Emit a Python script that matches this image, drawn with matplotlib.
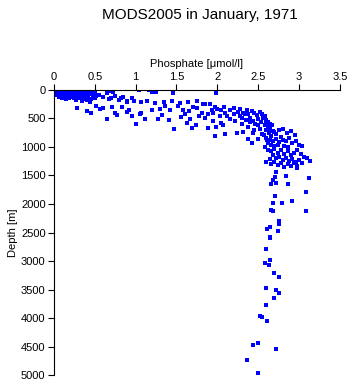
import matplotlib
matplotlib.use('Agg')
import matplotlib.pyplot as plt
from matplotlib.ticker import FormatStrFormatter, FuncFormatter

plt.rcParams['font.family'] = ['Liberation Sans', 'DejaVu Sans']

# surface layer, 0-170 m
surf_po4 = [0.01, 0.04, 0.07, 0.10, 0.13, 0.16, 0.19, 0.22, 0.26, 0.30, 0.35, 0.40, 0.46,
            0.02, 0.05, 0.08, 0.11, 0.14, 0.17, 0.21, 0.25, 0.29, 0.33, 0.38, 0.43,
            0.00, 0.03, 0.06, 0.09, 0.12, 0.15, 0.18, 0.22, 0.27, 0.31, 0.36, 0.42, 0.48,
            0.01, 0.04, 0.07, 0.10, 0.13, 0.17, 0.20, 0.24, 0.28, 0.34, 0.39, 0.45,
            0.02, 0.05, 0.09, 0.12, 0.16, 0.19, 0.23, 0.27, 0.32, 0.37, 0.44, 0.50,
            0.03, 0.06, 0.10, 0.14, 0.18, 0.22, 0.26, 0.31, 0.36, 0.41, 0.47,
            0.04, 0.08, 0.12, 0.16, 0.21, 0.25, 0.30, 0.35, 0.42, 0.52,
            0.06, 0.11, 0.15, 0.20, 0.26, 0.33, 0.40, 0.48,
            0.10, 0.18, 0.24, 0.31, 0.38, 0.46,
            0.15, 0.27, 0.36]
surf_depth = [4, 8, 2, 6, 10, 3, 7, 12, 5, 9, 4, 11, 6,
              22, 18, 25, 20, 16, 24, 19, 27, 21, 17, 23, 26,
              34, 38, 31, 36, 40, 33, 37, 35, 41, 32, 39, 36, 30,
              48, 52, 46, 55, 50, 47, 53, 49, 56, 51, 45, 54,
              64, 68, 62, 70, 66, 61, 67, 72, 63, 69, 65, 60,
              80, 84, 78, 86, 82, 79, 85, 77, 83, 88, 81,
              98, 102, 96, 105, 100, 97, 104, 99, 106, 110,
              118, 124, 116, 122, 126, 120, 128, 132,
              142, 148, 145, 150, 140, 155,
              168, 175, 165]

# upper thermocline, 0.3-1.0
upper_po4 = [0.67, 0.72, 0.55, 0.60, 0.65, 0.70, 0.75, 0.80, 0.85, 0.90, 0.95, 0.50, 0.44, 0.40, 0.35, 0.30,
             0.44, 0.65, 0.77, 0.46, 0.41, 0.28, 0.60, 0.71, 0.83, 0.89, 0.92, 0.52, 0.56, 0.75, 0.68, 0.89, 0.82, 0.71]
upper_depth = [20, 45, 90, 120, 60, 140, 110, 170, 130, 200, 150, 150, 220, 180, 200, 150,
               193, 503, 444, 409, 368, 310, 310, 293, 293, 386, 351, 281, 339, 398, 163, 193, 135, 18]

# phosphocline, 1.0-2.6
mid_po4 = [1.04, 1.16, 1.20, 1.25, 1.46, 1.99,
           0.89, 0.98, 1.07, 1.14, 1.24, 1.35, 1.44, 1.54, 1.64, 1.75, 1.83,
           0.92, 1.07, 1.20, 1.30, 1.36, 1.42, 1.52, 1.58, 1.65, 1.75, 1.77, 1.67, 1.63, 1.74, 1.47,
           1.01, 1.12, 1.28, 1.41, 0.95, 1.05, 1.32, 1.69,
           1.85, 1.91, 1.97, 2.08, 2.20, 2.28, 2.36, 2.42, 2.52,
           1.81, 1.89, 1.95, 2.03, 2.15, 2.22, 2.30, 2.34, 2.40, 2.44, 2.50, 2.59,
           1.89, 1.99, 2.07, 2.24, 2.32, 2.44, 2.50, 1.97, 2.10, 2.38, 2.42, 2.61, 2.55, 2.50, 2.48,
           2.25, 2.32, 2.38, 2.45, 2.28, 2.35, 2.40, 2.46, 2.30, 2.38, 2.45, 2.52, 2.20,
           2.15, 2.10, 2.05, 2.00, 1.93, 1.70, 1.60, 1.55, 1.85, 1.95, 2.05, 2.12]
mid_depth = [5, 5, 30, 35, 58, 58,
             210, 195, 215, 200, 225, 205, 190, 230, 215, 200, 251,
             351, 398, 351, 339, 281, 351, 281, 351, 368, 310, 456, 514, 585, 620, 690,
             602, 514, 514, 532, 456, 427, 444, 661,
             251, 255, 293, 300, 310, 328, 351, 368, 386,
             398, 427, 405, 456, 514, 544, 485, 427, 490, 550, 620, 602,
             661, 655, 620, 749, 745, 755, 865, 807, 778, 860, 924, 870, 778, 514, 444,
             380, 400, 420, 400, 450, 520, 560, 600, 600, 650, 700, 680, 420,
             360, 400, 350, 330, 350, 300, 420, 480, 500, 540, 580, 450]

# deep maximum, 350-1350 m
deep_po4 = [2.52, 2.55, 2.58, 2.56, 2.60, 2.62, 2.65, 2.54, 2.67, 2.60,
            2.58, 2.62, 2.60, 2.65, 2.68, 2.63, 2.70, 2.57, 2.66, 2.72, 2.75, 2.80, 2.85, 2.90, 2.95, 2.78,
            2.60, 2.64, 2.68, 2.72, 2.76, 2.80, 2.84, 2.88, 2.92, 2.96, 3.00, 2.66, 2.70, 2.74, 2.82, 2.86,
            3.04, 2.62, 2.58,
            2.62, 2.66, 2.70, 2.74, 2.78, 2.82, 2.86, 2.90, 2.94, 2.98, 3.02, 3.06, 3.10, 2.68, 2.72, 2.76,
            2.80, 2.84, 2.88, 2.92, 2.96, 3.00, 2.64, 2.70, 2.78, 2.86, 2.94, 3.04, 2.74, 2.82, 2.90, 2.98,
            2.66, 2.60]
deep_depth = [380, 420, 450, 500, 520, 560, 590, 560, 620, 600,
              620, 650, 700, 680, 720, 760, 740, 790, 800, 780, 700, 690, 760, 720, 790, 820,
              850, 880, 900, 860, 920, 880, 900, 850, 940, 900, 960, 960, 990, 970, 980, 1000,
              990, 930, 1000,
              1050, 1080, 1040, 1100, 1060, 1120, 1080, 1140, 1100, 1060, 1120, 1180, 1200, 1150, 1200, 1170,
              1230, 1190, 1250, 1210, 1260, 1230, 1220, 1270, 1280, 1300, 1290, 1280, 1320, 1350, 1330, 1340,
              1300, 1260]

# bottom water, below 1400 m
bottom_po4 = [2.72, 2.71, 2.84, 2.68, 2.72, 2.66, 2.86, 3.12, 2.98, 3.14, 3.09, 2.71,
              2.68, 2.79, 2.91, 3.08, 2.66, 2.68, 2.75, 2.76, 2.64, 2.61, 2.74, 2.65, 2.65,
              2.60, 2.64, 2.58, 2.63, 2.69, 2.75, 2.60, 2.72, 2.76, 2.69, 2.59, 2.52, 2.55,
              2.61, 2.44, 2.50, 2.72, 2.36, 2.50]
bottom_depth = [1433, 1520, 1509, 1579, 1637, 1649, 1654, 1549, 1374, 1251, 1795, 1854,
                1988, 1988, 1942, 2128, 2105, 2128, 2293, 2356, 2409, 2444, 2474, 2574, 2602,
                2795, 2988, 3030, 3075, 3205, 3286, 3479, 3504, 3567, 3654, 3777, 3970, 3977,
                4058, 4468, 4444, 4549, 4737, 4970]

po4 = surf_po4 + upper_po4 + mid_po4 + deep_po4 + bottom_po4
depth = surf_depth + upper_depth + mid_depth + deep_depth + bottom_depth

fig = plt.figure(figsize=(3.5, 3.84), dpi=100)
ax = fig.add_axes([0.154, 0.023, 0.817, 0.743])

ax.plot(po4, depth, 's', color='#0000ff', markersize=2.2, markeredgewidth=0)

ax.set_xlim(0, 3.5)
ax.set_ylim(5000, 0)
ax.set_xticks([0, 0.5, 1, 1.5, 2, 2.5, 3, 3.5])
ax.set_yticks(range(0, 5001, 500))
ax.xaxis.set_major_formatter(FuncFormatter(lambda v, p: '%g' % v))
ax.xaxis.tick_top()
ax.xaxis.set_label_position('top')
ax.tick_params(labelsize=8, length=4, width=0.8, direction='out', pad=2)

ax.spines['right'].set_visible(False)
ax.spines['bottom'].set_visible(False)
for s in ['left', 'top']:
    ax.spines[s].set_linewidth(0.8)

ax.set_xlabel('Phosphate [μmol/l]', fontsize=8, labelpad=3)
ax.set_ylabel('Depth [m]', fontsize=8, labelpad=2)

fig.text(0.57, 0.962, 'MODS2005 in January, 1971', ha='center', va='center', fontsize=11)

fig.savefig('out.png', dpi=100)
